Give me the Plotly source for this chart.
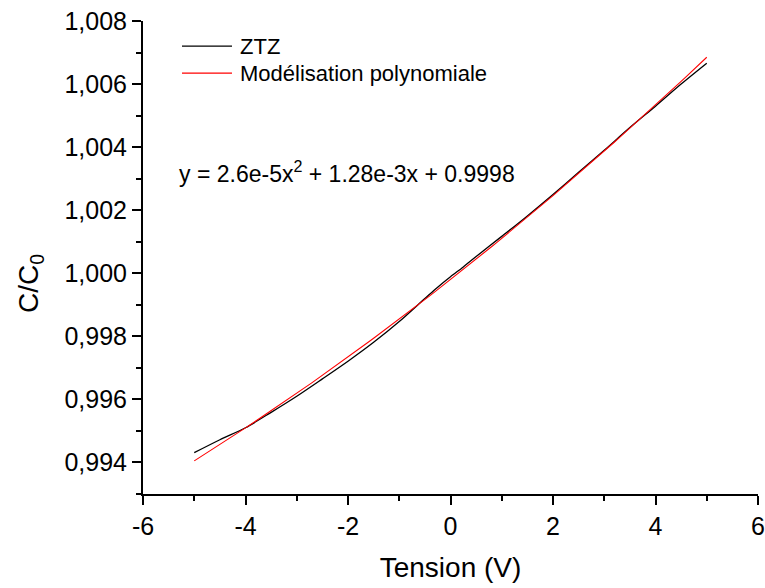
import numpy as np
import plotly.graph_objects as go

# Measured normalised capacitance C/C0 of the ZTZ sample versus bias voltage
tension_v = [-5.0, -4.5, -4.0, -3.5, -3.0, -2.5, -2.0, -1.5, -1.0, -0.5,
             -0.25, 0.0, 0.25, 0.5, 1.0, 1.5, 2.0, 2.5, 3.0, 3.5, 4.0, 4.5, 5.0]
ztz_ratio = [0.99431, 0.99472, 0.99510, 0.99559, 0.99610, 0.99665, 0.99721,
             0.99781, 0.99847, 0.99920, 0.99956, 0.99989, 1.00020, 1.00053,
             1.00117, 1.00182, 1.00250, 1.00320, 1.00390, 1.00462, 1.00530,
             1.00600, 1.00666]

# Second-order polynomial fit coefficients (a*x^2 + b*x + c)
fit_coeffs = [2.6e-5, 1.28e-3, 0.9998]
fit_x = np.linspace(-5, 5, 101)
fit_y = np.polyval(fit_coeffs, fit_x)

# Axis ticks
x_ticks = [-6, -4, -2, 0, 2, 4, 6]
x_tick_labels = ["-6", "-4", "-2", "0", "2", "4", "6"]

series_names = ["ZTZ", "Modélisation polynomiale"]
series_colors = ["black", "#ff0000"]

FONT = "Arial, Liberation Sans, sans-serif"

fig = go.Figure()
fig.add_trace(go.Scatter(x=tension_v, y=ztz_ratio, mode="lines", name=series_names[0],
                         line=dict(color=series_colors[0], width=1.3, shape="spline",
                                   smoothing=0.8)))
fig.add_trace(go.Scatter(x=fit_x, y=fit_y, mode="lines", name=series_names[1],
                         line=dict(color=series_colors[1], width=1.1)))

axis_common = dict(
    showline=True, linecolor="black", linewidth=2,
    ticks="outside", ticklen=9, tickwidth=2, tickcolor="black",
    showgrid=False, zeroline=False, mirror=False, automargin=False,
    tickfont=dict(family=FONT, size=25, color="black"),
)

fig.update_xaxes(
    range=[-6, 6], tickmode="array", tickvals=x_ticks, ticktext=x_tick_labels,
    minor=dict(ticks="outside", ticklen=5, tickwidth=2, tickcolor="black",
               tickmode="linear", dtick=1, tick0=-6),
    title=dict(text="Tension (V)", font=dict(family=FONT, size=28, color="black"),
               standoff=18),
    **axis_common,
)
fig.update_yaxes(
    range=[0.993, 1.008], tickmode="linear", tick0=0.994, dtick=0.002,
    tickformat=".3f",
    minor=dict(ticks="outside", ticklen=5, tickwidth=2, tickcolor="black",
               dtick=0.001, tick0=0.993),
    **axis_common,
)

# Vertical axis title, set slightly below the centre of the axis
fig.add_annotation(
    text="C/C<sub>0</sub>", textangle=-90,
    xref="paper", yref="paper", x=-0.182, y=0.444,
    xanchor="center", yanchor="middle", showarrow=False,
    font=dict(family=FONT, size=28, color="black"),
)

# Key: short line samples followed by the series names
key_rows_y = [0.947, 0.890]
for name, color, ky in zip(series_names, series_colors, key_rows_y):
    fig.add_shape(type="line", xref="paper", yref="paper",
                  x0=0.0634, x1=0.1447, y0=ky, y1=ky,
                  line=dict(color=color, width=1.2))
    fig.add_annotation(text=name, xref="paper", yref="paper",
                       x=0.155, y=ky, xanchor="left", yanchor="middle",
                       showarrow=False,
                       font=dict(family=FONT, size=22, color="black"))

fig.add_annotation(
    text="y = 2.6e-5x<sup>2</sup> + 1.28e-3x + 0.9998",
    xref="paper", yref="paper", x=0.056, y=0.681,
    xanchor="left", yanchor="middle", showarrow=False,
    font=dict(family=FONT, size=23, color="black"),
)

fig.update_layout(
    width=765, height=588,
    margin=dict(l=143, r=7, t=21, b=94),
    paper_bgcolor="white", plot_bgcolor="white",
    separators=", ",
    showlegend=False,
)

fig.write_html("out.html")
